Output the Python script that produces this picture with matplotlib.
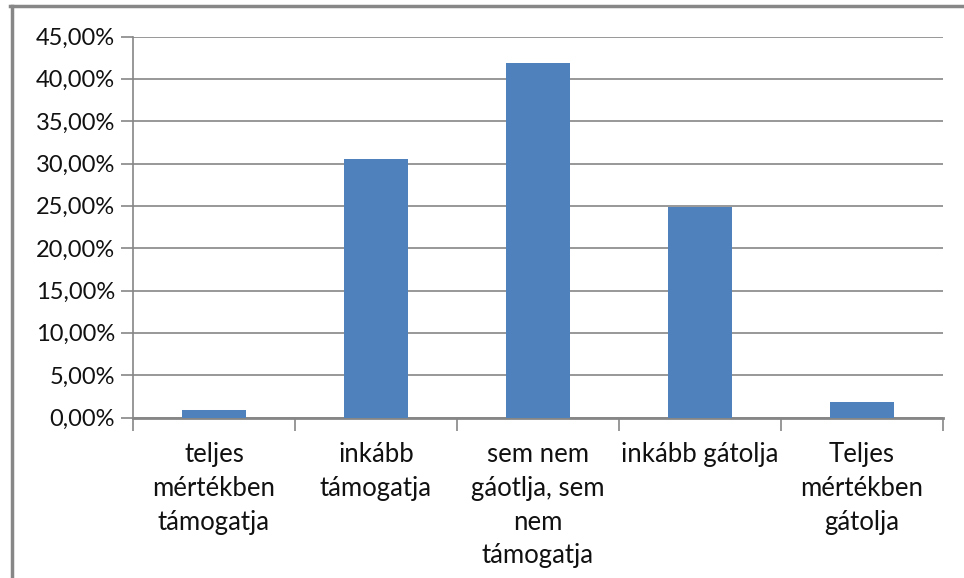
import matplotlib
matplotlib.use("Agg")
import matplotlib.pyplot as plt
from matplotlib.lines import Line2D
from matplotlib.ticker import FuncFormatter

categories = ["teljes\nmértékben\ntámogatja", "inkább\ntámogatja",
              "sem nem\ngáotlja, sem\nnem\ntámogatja", "inkább gátolja",
              "Teljes\nmértékben\ngátolja"]
values = [0.88, 30.5, 41.9, 24.9, 1.8]
yticks = [0, 5, 10, 15, 20, 25, 30, 35, 40, 45]

plt.rcParams['font.family'] = ['Lato', 'DejaVu Sans']

fig = plt.figure(figsize=(9.64, 5.78), dpi=100)
ax = fig.add_axes([133 / 964, 1 - 417.5 / 578, 810 / 964, 381 / 578])

grey = '#868686'
x = range(len(categories))
ax.bar(x, values, width=0.4, color='#4F81BD', zorder=3)

ax.set_xlim(-0.5, len(categories) - 0.5)
ax.set_ylim(0, 45)
ax.set_yticks(yticks)
ax.yaxis.set_major_formatter(FuncFormatter(lambda v, p: f"{v:.2f}%".replace('.', ',')))
ax.grid(axis='y', color=grey, linewidth=1.2, zorder=1)
ax.tick_params(axis='y', length=9, color=grey, width=1.2, labelsize=17,
               labelcolor='#111111', pad=4)

# category labels at bar centres, boundary ticks between them
ax.set_xticks([i - 0.5 for i in range(len(categories) + 1)])
ax.set_xticklabels([])
ax.tick_params(axis='x', length=9, color=grey, width=1.2)
for i, lab in enumerate(categories):
    ax.text(i, -2.95, lab, ha='center', va='top', fontsize=18.5,
            linespacing=1.43, color='#111111')

for side in ['top', 'right']:
    ax.spines[side].set_visible(False)
ax.spines['left'].set_color(grey)
ax.spines['left'].set_linewidth(1.2)
ax.spines['bottom'].set_color(grey)
ax.spines['bottom'].set_linewidth(2)
ax.set_axisbelow(True)

# outer chart frame (top and left edges visible)
fig.add_artist(Line2D([11.5 / 964, 11.5 / 964], [0, 1 - 6 / 578],
                      transform=fig.transFigure, color='#878787', linewidth=2.5))
fig.add_artist(Line2D([10 / 964, 1], [1 - 6 / 578, 1 - 6 / 578],
                      transform=fig.transFigure, color='#878787', linewidth=2.5))

fig.savefig("out.png", dpi=100)
